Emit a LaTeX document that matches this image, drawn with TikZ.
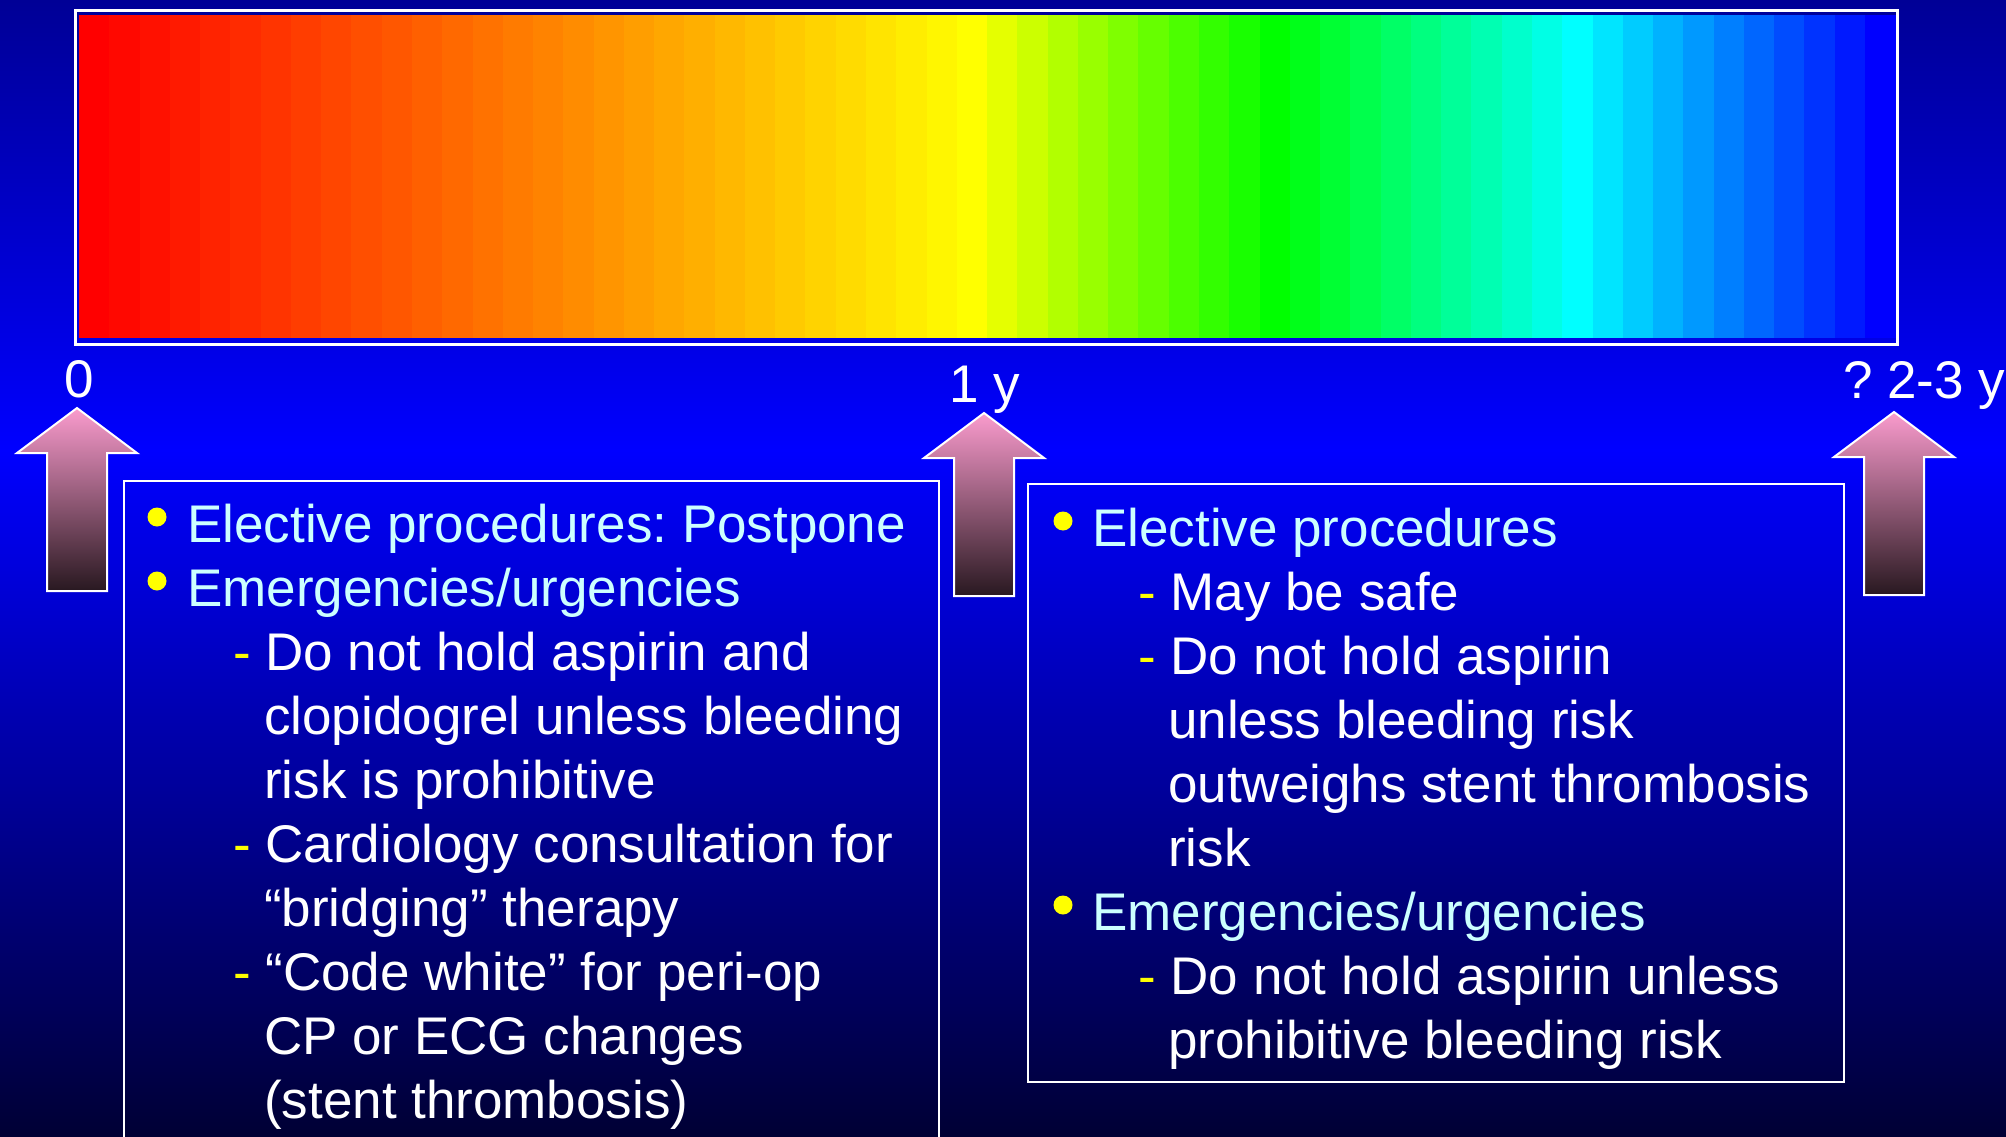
\documentclass[tikz,border=0pt]{standalone}
\usepackage{fontspec}
\setmainfont{Liberation Sans}
\usepackage{xcolor}
\usepackage{tikz}
\usetikzlibrary{positioning}

\definecolor{bgtop}{RGB}{0,0,150}
\definecolor{bgmid}{RGB}{0,0,255}
\definecolor{bgbot}{RGB}{0,0,52}
\definecolor{headcyan}{RGB}{204,255,255}
\definecolor{dotyellow}{RGB}{255,255,0}
\definecolor{arrpink}{RGB}{250,155,205}
\definecolor{arrmid}{RGB}{205,124,165}
\definecolor{arrdark}{RGB}{40,24,32}

\newcommand{\slidefont}{\fontsize{53}{64}\selectfont}
\newcommand{\ydash}{{\color{dotyellow}-}\ }
% block arrow pointing up, #1/#2 = tip
\newcommand{\uparrowat}[2]{%
  \draw[uparr] (#1,#2) -- ++(60,45) -- ++(-30,0) -- ++(0,138)
    -- ++(-60,0) -- ++(0,-138) -- ++(-30,0) -- cycle;}
\frenchspacing

\begin{document}
\begin{tikzpicture}[
    x=1pt, y=-1pt,
    lvlone/.style={anchor=base west, inner sep=0pt, text=headcyan, font=\slidefont},
    lvltwo/.style={anchor=base west, inner sep=0pt, text=white, font=\slidefont},
    ticklbl/.style={anchor=base, inner sep=0pt, text=white, font=\slidefont},
    panel/.style={draw=white, line width=2.5pt},
    uparr/.style={draw=white, line width=2pt, top color=arrpink,
                  middle color=arrmid, bottom color=arrdark}
  ]
    \useasboundingbox (0,0) rectangle (2006,1137);
    % background
    \shade[top color=bgtop, bottom color=bgmid] (0,0) rectangle (2006,451);
    \shade[top color=bgmid, bottom color=bgbot] (0,450) rectangle (2006,1137);

    % colour bar
    \foreach \i in {0,...,59}{
      \pgfmathtruncatemacro\bandR{\i<30 ? 255 : (\i<40 ? 255*(39-\i)/10 : 0)}
      \pgfmathtruncatemacro\bandG{\i<30 ? 255*\i/29 : (\i<50 ? 255 : 255*(59-\i)/10)}
      \pgfmathtruncatemacro\bandB{\i<40 ? 0 : (\i<50 ? 255*(\i-39)/10 : 255)}
      \definecolor{bandcol}{RGB}{\bandR,\bandG,\bandB}
      \fill[bandcol] ({79+\i*30.27},15) rectangle ({79+(\i+1)*30.27+0.5},338);
    }
    \draw[white, line width=3pt] (75,11) rectangle (1897,344);

    % time marks
    \node[ticklbl] (t0) at (79,397) {0};
    \node[ticklbl] (t1) at (985,402) {1 y};
    \node[ticklbl, anchor=base west] (t2) at (1843,398) {? 2-3 y};
    \uparrowat{77}{408}
    \uparrowat{984}{413}
    \uparrowat{1894}{412}

    % left panel
    \draw[panel] (124,481) rectangle (939,1150);
    \fill[dotyellow] (157,517) circle (9.5);
    \fill[dotyellow] (157,581) circle (9.5);
    \node[lvlone] (L1)  at (187,542)  {Elective procedures: Postpone};
    \node[lvlone] (L2)  at (187,606)  {Emergencies/urgencies};
    \node[lvltwo] (L3)  at (233,670)  {\ydash Do not hold aspirin and};
    \node[lvltwo] (L4)  at (264,734)  {clopidogrel unless bleeding};
    \node[lvltwo] (L5)  at (264,798)  {risk is prohibitive};
    \node[lvltwo] (L6)  at (233,862)  {\ydash Cardiology consultation for};
    \node[lvltwo] (L7)  at (264,926)  {“bridging” therapy};
    \node[lvltwo] (L8)  at (233,990)  {\ydash “Code white” for peri-op};
    \node[lvltwo] (L9)  at (264,1054) {CP or ECG changes};
    \node[lvltwo] (L10) at (264,1118) {(stent thrombosis)};

    % right panel
    \draw[panel] (1028,484) rectangle (1844,1082);
    \fill[dotyellow] (1063,521) circle (9.5);
    \fill[dotyellow] (1063,905) circle (9.5);
    \node[lvlone] (R1) at (1092,546)  {Elective procedures};
    \node[lvltwo] (R2) at (1138,610)  {\ydash May be safe};
    \node[lvltwo] (R3) at (1138,674)  {\ydash Do not hold aspirin};
    \node[lvltwo] (R4) at (1168,738)  {unless bleeding risk};
    \node[lvltwo] (R5) at (1168,802)  {outweighs stent thrombosis};
    \node[lvltwo] (R6) at (1168,866)  {risk};
    \node[lvlone] (R7) at (1092,930)  {Emergencies/urgencies};
    \node[lvltwo] (R8) at (1138,994)  {\ydash Do not hold aspirin unless};
    \node[lvltwo] (R9) at (1168,1058) {prohibitive bleeding risk};
  \end{tikzpicture}
\end{document}
